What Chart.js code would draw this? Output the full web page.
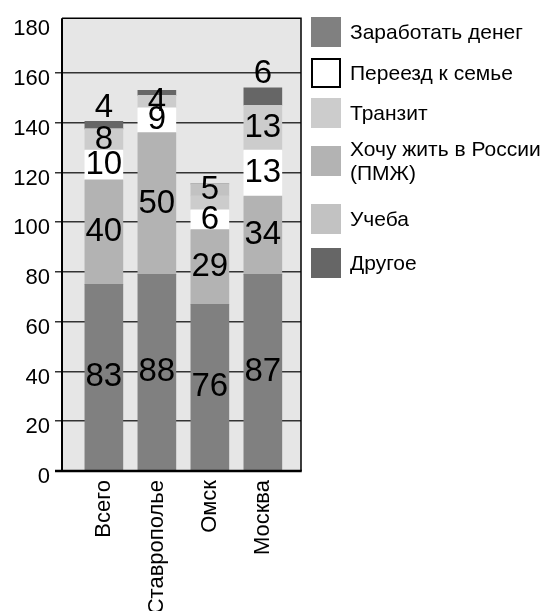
<!DOCTYPE html>
<html>
<head>
<meta charset="utf-8">
<script src="https://cdn.jsdelivr.net/npm/chart.js@4.4.1/dist/chart.umd.min.js"></script>
<style>
  body { margin: 0; background: #fff; }
  #wrap { position: relative; width: 548px; height: 611px; }
  #legend { position: absolute; left: 311px; top: 0; font-family: "Liberation Sans", Arial, sans-serif; font-size: 21px; color: #000; }
  .row { position: absolute; left: 0; display: flex; align-items: center; white-space: nowrap; }
  .box { width: 30px; height: 30px; box-sizing: border-box; flex: none; margin-right: 9px; }
  .txt { line-height: 24px; }
</style>
</head>
<body>
<div id="wrap">
  <canvas id="chart"></canvas>
  <div id="legend"></div>
</div>
<script>
// categories
const categories = ["Всего", "Ставрополье", "Омск", "Москва"];

// bar heights (bottom to top of each stack)
const earnMoney = [75, 79, 67, 79];
const liveInRussia = [42, 57, 30, 31.5];
const toFamily = [12, 10, 8, 18.5];
const transit = [8.5, 5, 5.6, 18];
const study = [0, 0, 4.8, 0];
const other = [3, 2, 0, 7];

// numbers printed on the bars
const earnMoneyText = ["83", "88", "76", "87"];
const liveInRussiaText = ["40", "50", "29", "34"];
const toFamilyText = ["10", "9", "6", "13"];
const transitText = ["8", "4", "", "13"];
const studyText = ["", "", "5", ""];
const otherText = ["4", "", "", "6"];

const yTicks = [0, 20, 40, 60, 80, 100, 120, 140, 160, 180];

const toPoints = arr => arr.map((v, i) => ({ x: i, y: v }));

const datasets = [
  { label: "Заработать денег", data: toPoints(earnMoney), backgroundColor: "#808080", texts: earnMoneyText },
  { label: "Хочу жить в России\n(ПМЖ)", data: toPoints(liveInRussia), backgroundColor: "#b3b3b3", texts: liveInRussiaText },
  { label: "Переезд к семье", data: toPoints(toFamily), backgroundColor: "#ffffff", texts: toFamilyText, legendBorder: true },
  { label: "Транзит", data: toPoints(transit), backgroundColor: "#cccccc", texts: transitText },
  { label: "Учеба", data: toPoints(study), backgroundColor: "#c2c2c2", texts: studyText },
  { label: "Другое", data: toPoints(other), backgroundColor: "#666666", texts: otherText, above: true }
];
datasets.forEach(ds => { ds.barThickness = 38; });
const legendOrder = [0, 2, 3, 1, 4, 5];
const legendTops = [17, 58, 98, 147, 204, 248];

const frame = {
  id: "frame",
  beforeDraw(chart) {
    const { ctx, chartArea: a } = chart;
    ctx.save();
    ctx.fillStyle = "#e6e6e6";
    ctx.fillRect(a.left, a.top, a.right - a.left, a.bottom - a.top);
    ctx.restore();
  },
  afterDatasetsDraw(chart) {
    const { ctx, chartArea: a } = chart;
    ctx.save();
    ctx.strokeStyle = "#000";
    ctx.lineWidth = 1.5;
    ctx.beginPath();
    ctx.moveTo(a.left, a.top);
    ctx.lineTo(a.right, a.top);
    ctx.lineTo(a.right, a.bottom);
    ctx.stroke();
    ctx.lineWidth = 2;
    ctx.beginPath();
    ctx.moveTo(a.left, a.top);
    ctx.lineTo(a.left, a.bottom);
    ctx.stroke();
    ctx.lineWidth = 2.5;
    ctx.beginPath();
    ctx.moveTo(a.left - 7, a.bottom);
    ctx.lineTo(a.right + 0.75, a.bottom);
    ctx.stroke();

    // numbers on the bars
    ctx.fillStyle = "#000";
    ctx.font = '33px "Liberation Sans", sans-serif';
    ctx.textAlign = "center";
    ctx.textBaseline = "middle";
    chart.data.datasets.forEach((ds, i) => {
      chart.getDatasetMeta(i).data.forEach((bar, j) => {
        const t = ds.texts[j];
        if (!t) return;
        const y = ds.above ? bar.y - 14 : (bar.y + bar.base) / 2;
        ctx.fillText(t, bar.x, y);
      });
    });
    ctx.restore();
  }
};

const chart = new Chart(document.getElementById("chart"), {
  type: "bar",
  data: { datasets: datasets },
  options: {
    responsive: true,
    maintainAspectRatio: false,
    animation: false,
    layout: { padding: { top: 17, right: 247, left: 0, bottom: 0 } },
    plugins: { legend: { display: false }, tooltip: { enabled: false } },
    scales: {
      x: {
        type: "linear",
        stacked: true,
        offset: false,
        min: -0.79,
        max: 3.72,
        afterBuildTicks(scale) { scale.ticks = categories.map((c, i) => ({ value: i })); },
        afterFit(scale) { scale.height = 140; },
        grid: { display: false, drawTicks: false, offset: false },
        border: { display: false },
        ticks: {
          minRotation: 90,
          maxRotation: 90,
          padding: 9,
          color: "#000",
          font: { family: '"Liberation Sans", sans-serif', size: 22 },
          callback: v => categories[v]
        }
      },
      y: {
        stacked: true,
        min: 0,
        max: 182,
        afterBuildTicks(scale) { scale.ticks = yTicks.map(v => ({ value: v })); },
        afterFit(scale) { scale.width = 62; },
        border: { display: false },
        grid: {
          color: c => (c.tick && c.tick.value === 180 ? "rgba(0,0,0,0)" : "#333"),
          lineWidth: 1.5,
          tickLength: 7
        },
        ticks: {
          padding: 5,
          labelOffset: 6,
          color: "#000",
          font: { family: '"Liberation Sans", sans-serif', size: 22 }
        }
      }
    }
  },
  plugins: [frame]
});

// legend in the original order
const legend = document.getElementById("legend");
legendOrder.forEach((idx, k) => {
  const ds = datasets[idx];
  const row = document.createElement("div");
  row.className = "row";
  const lines = ds.label.split("\n").length;
  row.style.top = (legendTops[k] - (lines - 1) * 10) + "px";
  const box = document.createElement("div");
  box.className = "box";
  box.style.background = ds.backgroundColor;
  if (ds.legendBorder) box.style.border = "2.5px solid #000";
  const txt = document.createElement("div");
  txt.className = "txt";
  txt.innerHTML = ds.label.split("\n").join("<br>");
  row.appendChild(box);
  row.appendChild(txt);
  legend.appendChild(row);
});
</script>
</body>
</html>
